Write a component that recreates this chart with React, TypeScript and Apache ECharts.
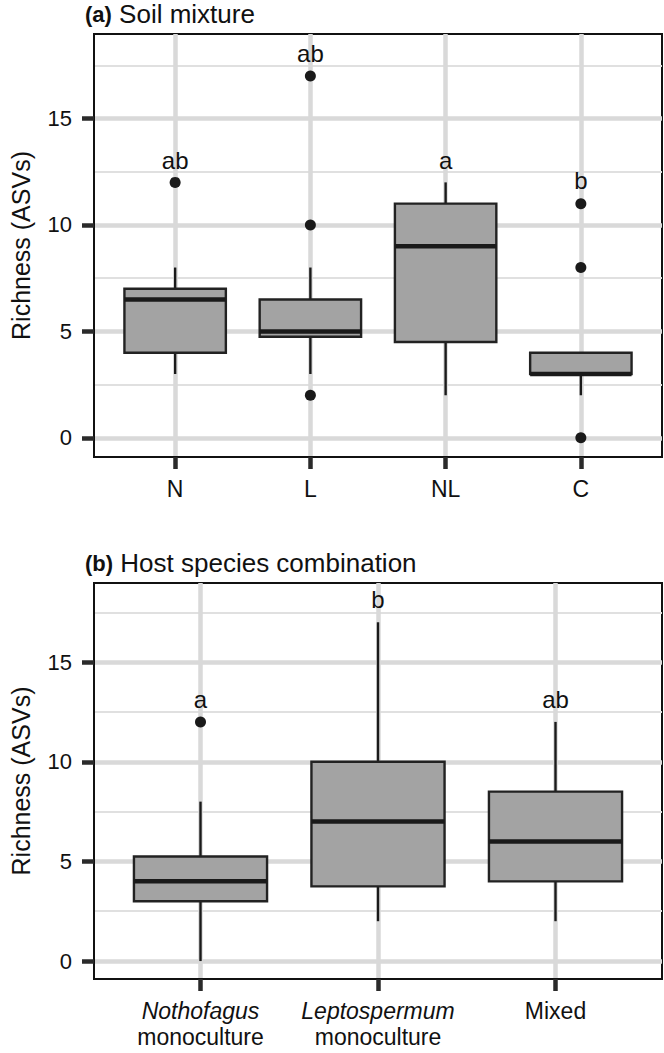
import React, { useEffect, useRef } from 'react';
import * as echarts from 'echarts';

// ---- Data ----
const soilCats = ['N', 'L', 'NL', 'C'];
// [min whisker, Q1, median, Q3, max whisker]
const soilStats = [
  [3, 4, 6.5, 7, 8],
  [3, 4.75, 5, 6.5, 8],
  [2, 4.5, 9, 11, 12],
  [2, 3, 3, 4, 4],
];
const soilOutliers = [
  [1, 12],
  [2, 17],
  [2, 10],
  [2, 2],
  [4, 11],
  [4, 8],
  [4, 0],
];
const soilLetters = ['ab', 'ab', 'a', 'b'];
const soilLetterY = [13.05, 18.05, 13.05, 12.1];

const hostCats = ['Nothofagus monoculture', 'Leptospermum monoculture', 'Mixed'];
const hostStats = [
  [0, 3, 4, 5.25, 8],
  [2, 3.75, 7, 10, 17],
  [2, 4, 6, 8.5, 12],
];
const hostOutliers = [[1, 12]];
const hostLetters = ['a', 'b', 'ab'];
const hostLetterY = [13.1, 18.15, 13.1];

const majorTicks = [0, 5, 10, 15];
const minorTicks = [2.5, 7.5, 12.5, 17.5];
const yTitle = 'Richness (ASVs)';
const titleA = ['(a)', 'Soil mixture'];
const titleB = ['(b)', 'Host species combination'];

const FONT = '"Liberation Sans", Arial, Helvetica, sans-serif';
const TXT = '#111111';
const GRIDC = '#d9d9d9';

function boxRender(params: any, api: any) {
  const x = api.value(0);
  const lo = api.coord([x, api.value(1)]);
  const q1 = api.coord([x, api.value(2)]);
  const med = api.coord([x, api.value(3)]);
  const q3 = api.coord([x, api.value(4)]);
  const hi = api.coord([x, api.value(5)]);
  const w = api.size([0.75, 0])[0];
  const cx = lo[0];
  const ws = { stroke: '#1a1a1a', lineWidth: 2.4 };
  return {
    type: 'group',
    children: [
      { type: 'line', shape: { x1: cx, y1: hi[1], x2: cx, y2: q3[1] }, style: ws },
      { type: 'line', shape: { x1: cx, y1: q1[1], x2: cx, y2: lo[1] }, style: ws },
      {
        type: 'rect',
        shape: { x: cx - w / 2, y: q3[1], width: w, height: q1[1] - q3[1] },
        style: { fill: '#a3a3a3', stroke: '#222222', lineWidth: 2.4 },
      },
      {
        type: 'line',
        shape: { x1: cx - w / 2, y1: med[1], x2: cx + w / 2, y2: med[1] },
        style: { stroke: '#1a1a1a', lineWidth: 4.5 },
      },
    ],
  };
}

function xAxisFor(grid: number, cats: string[], italicFirst: boolean) {
  const vals = cats.map((_, i) => i + 1);
  return {
    type: 'value',
    gridIndex: grid,
    min: 0.4,
    max: cats.length + 0.6,
    axisLine: { show: true, onZero: false, lineStyle: { color: TXT, width: 2 } },
    axisTick: { show: true, length: 12, customValues: vals, lineStyle: { color: '#2a2a2a', width: 4.5 } },
    axisLabel: {
      show: true,
      customValues: vals,
      margin: 19,
      color: TXT,
      fontFamily: FONT,
      fontSize: 23,
      lineHeight: 26,
      formatter: (v: number) => {
        const c = cats[Math.round(v) - 1] || '';
        if (italicFirst) {
          const parts = c.split(' ');
          if (parts.length > 1) return '{i|' + parts[0] + '}\n' + parts.slice(1).join(' ');
        }
        return c;
      },
      rich: { i: { fontStyle: 'italic', fontFamily: FONT, fontSize: 23, color: TXT, lineHeight: 26 } },
    },
    splitLine: { show: true, lineStyle: { color: GRIDC, width: 4.5 } },
  };
}

function yAxesFor(grid: number) {
  return [
    {
      type: 'value',
      gridIndex: grid,
      min: -0.9,
      max: 18.97,
      position: 'left',
      name: yTitle,
      nameLocation: 'middle',
      nameGap: 61,
      nameTextStyle: { fontFamily: FONT, fontSize: 25, color: TXT },
      axisLine: { show: true, onZero: false, lineStyle: { color: TXT, width: 2 } },
      axisTick: { show: true, length: 12, customValues: majorTicks, lineStyle: { color: '#2a2a2a', width: 4.5 } },
      axisLabel: { show: true, customValues: majorTicks, margin: 22, color: TXT, fontFamily: FONT, fontSize: 22 },
      splitLine: { show: true, lineStyle: { color: GRIDC, width: 4.5 } },
    },
    {
      type: 'value',
      gridIndex: grid,
      min: -0.9,
      max: 18.97,
      position: 'left',
      axisLine: { show: false },
      axisTick: { show: false, customValues: minorTicks },
      axisLabel: { show: false, customValues: minorTicks },
      splitLine: { show: true, lineStyle: { color: '#e0e0e0', width: 2.2 } },
    },
  ];
}

function panelSeries(xi: number, yi: number, stats: number[][], outliers: number[][], letters: string[], letterY: number[]) {
  return [
    {
      type: 'custom',
      xAxisIndex: xi,
      yAxisIndex: yi,
      renderItem: boxRender,
      encode: { x: 0, y: [1, 2, 3, 4, 5] },
      data: stats.map((s, i) => [i + 1, ...s]),
      z: 3,
    },
    {
      type: 'scatter',
      xAxisIndex: xi,
      yAxisIndex: yi,
      symbol: 'circle',
      symbolSize: 11,
      itemStyle: { color: '#1a1a1a', opacity: 1 },
      data: outliers,
      z: 4,
    },
    {
      type: 'scatter',
      xAxisIndex: xi,
      yAxisIndex: yi,
      symbol: 'circle',
      symbolSize: 1,
      itemStyle: { color: 'transparent', opacity: 1 },
      data: letters.map((l, i) => [i + 1, letterY[i], l]),
      label: {
        show: true,
        position: 'inside',
        formatter: (p: any) => p.data[2],
        color: TXT,
        fontFamily: FONT,
        fontSize: 24,
      },
      z: 5,
    },
  ];
}

function titleFor(t: string[], top: number) {
  return {
    text: '{b|' + t[0] + '} ' + t[1],
    left: 85,
    top,
    padding: 0,
    textStyle: {
      fontFamily: FONT,
      fontSize: 26,
      fontWeight: 'normal',
      color: TXT,
      rich: { b: { fontFamily: FONT, fontSize: 22, fontWeight: 'bold', color: TXT } },
    },
  };
}

export default function App() {
  const ref = useRef<HTMLDivElement>(null);
  useEffect(() => {
    if (!ref.current) return;
    const chart = echarts.init(ref.current, undefined, { renderer: 'svg' });
    const option: any = {
      animation: false,
      backgroundColor: '#ffffff',
      textStyle: { fontFamily: FONT },
      title: [titleFor(titleA, 1), titleFor(titleB, 550)],
      grid: [
        { left: 85, top: 34, width: 577, height: 423, show: true, borderColor: TXT, borderWidth: 2, backgroundColor: 'transparent' },
        { left: 85, top: 583, width: 577, height: 396, show: true, borderColor: TXT, borderWidth: 2, backgroundColor: 'transparent' },
      ],
      xAxis: [xAxisFor(0, soilCats, false), xAxisFor(1, hostCats, true)],
      yAxis: [...yAxesFor(0), ...yAxesFor(1)],
      series: [
        ...panelSeries(0, 0, soilStats, soilOutliers, soilLetters, soilLetterY),
        ...panelSeries(1, 2, hostStats, hostOutliers, hostLetters, hostLetterY),
      ],
    };
    chart.setOption(option);
    return () => chart.dispose();
  }, []);
  return <div ref={ref} style={{ position: 'absolute', left: 0, top: 0, width: 664, height: 1053 }} />;
}
